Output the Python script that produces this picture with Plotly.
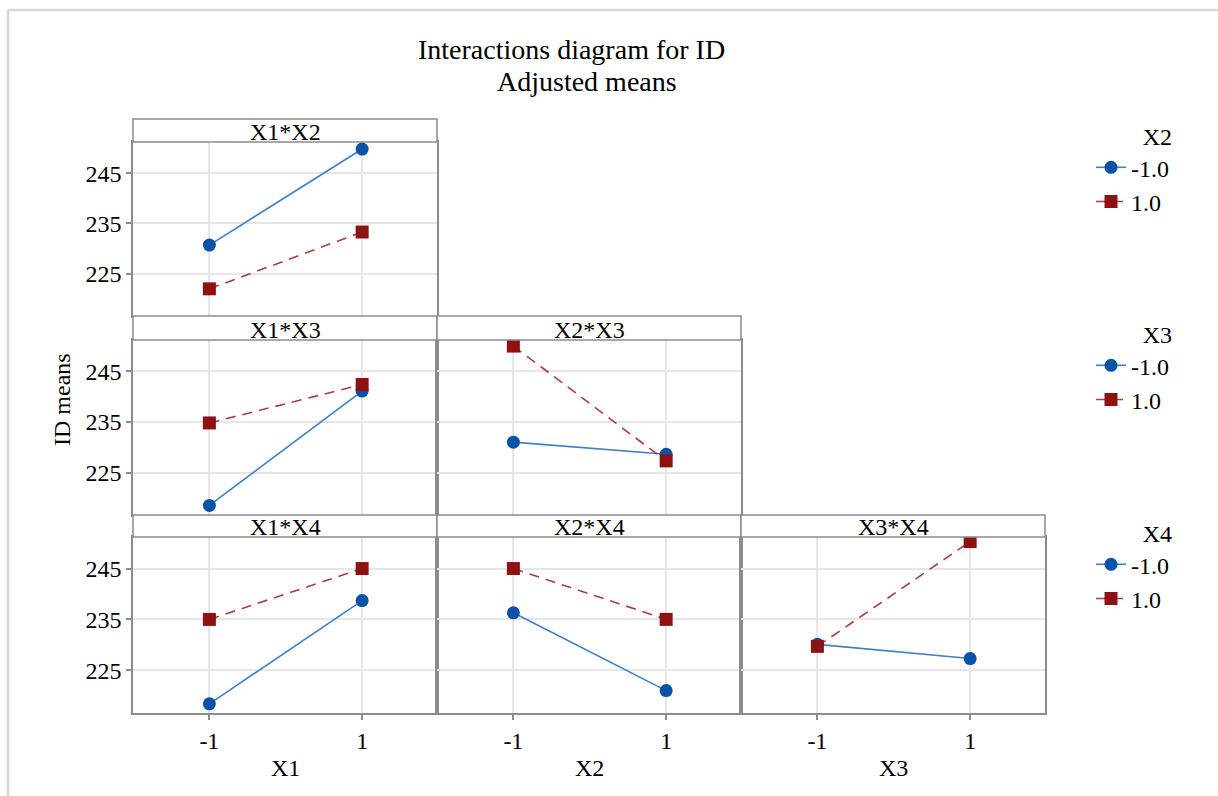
import plotly.graph_objects as go

# ---------------- data ----------------
x_levels = [-1, 1]
level_names = ["-1.0", "1.0"]

# panel titles
panel_titles = ["X1*X2", "X1*X3", "X2*X3", "X1*X4", "X2*X4", "X3*X4"]

# means for (trace level -1, trace level 1)
X1X2_low = [230.7, 249.8]
X1X2_high = [222.0, 233.3]
X1X3_low = [218.5, 241.1]
X1X3_high = [234.8, 242.4]
X2X3_low = [231.0, 228.6]
X2X3_high = [250.0, 227.3]
X1X4_low = [218.4, 238.7]
X1X4_high = [235.0, 245.0]
X2X4_low = [236.3, 221.0]
X2X4_high = [245.0, 235.0]
X3X4_low = [230.1, 227.3]
X3X4_high = [229.7, 250.3]

y_ticks = [225, 235, 245]
x_ticks = [-1, 1]
x_tick_labels = ["-1", "1"]
x_titles = ["X1", "X2", "X3"]
legend_titles = ["X2", "X3", "X4"]

# ---------------- layout helpers ----------------
W, H = 1218, 796
def fx(p):
    return p / W
def fy(p):
    return 1 - p / H

col_px = [(133, 437), (437, 741), (741, 1045)]
row_px = [(142, 316), (340, 515), (537, 713)]
header_top = [119, 316, 515]

FONT = "Liberation Serif"
GRAY = "#8C8C8C"
GRID = "#E6E6E6"
BLUE_M = "#0852A8"
BLUE_L = "#3F7FC8"
RED_M = "#8E1212"
RED_L = "#B23A3A"

panels = [
    # (row, col, title, low, high, legend)
    (0, 0, panel_titles[0], X1X2_low, X1X2_high, "legend"),
    (1, 0, panel_titles[1], X1X3_low, X1X3_high, "legend2"),
    (1, 1, panel_titles[2], X2X3_low, X2X3_high, None),
    (2, 0, panel_titles[3], X1X4_low, X1X4_high, "legend3"),
    (2, 1, panel_titles[4], X2X4_low, X2X4_high, None),
    (2, 2, panel_titles[5], X3X4_low, X3X4_high, None),
]

fig = go.Figure()
layout = {}
shapes = []
annotations = []

for i, (r, c, title, low, high, leg) in enumerate(panels):
    k = "" if i == 0 else str(i + 1)
    xa, ya = "x" + k, "y" + k
    x0, x1 = col_px[c]
    y0, y1 = row_px[r]
    bottom_row = (r == 2)
    left_col = (c == 0)
    layout["xaxis" + k] = dict(
        domain=[fx(x0), fx(x1)], anchor=ya, range=[-2.0, 1.98],
        tickvals=x_ticks, ticktext=x_tick_labels,
        showticklabels=bottom_row, ticks="outside" if bottom_row else "",
        ticklen=5, tickcolor=GRAY, tickwidth=1.5,
        showline=True, mirror=True, linecolor=GRAY, linewidth=1.5,
        showgrid=True, gridcolor=GRID, gridwidth=1.5, zeroline=False,
        tickfont=dict(family=FONT, size=24, color="black"),
        ticklabelstandoff=0,
    )
    layout["yaxis" + k] = dict(
        domain=[fy(y1), fy(y0)], anchor=xa, range=[216.6, 251.2],
        tickvals=y_ticks, showticklabels=left_col,
        ticks="outside" if left_col else "", ticklen=5, tickcolor=GRAY, tickwidth=1.5,
        showline=True, mirror=True, linecolor=GRAY, linewidth=1.5,
        showgrid=True, gridcolor=GRID, gridwidth=1.5, zeroline=False,
        tickfont=dict(family=FONT, size=24, color="black"),
    )
    show = leg is not None
    fig.add_trace(go.Scatter(
        x=x_levels, y=low, xaxis=xa, yaxis=ya, mode="lines+markers",
        name=level_names[0], showlegend=show, legend=leg if show else "legend",
        line=dict(color=BLUE_L, width=1.6),
        marker=dict(symbol="circle", size=13, color=BLUE_M),
    ))
    fig.add_trace(go.Scatter(
        x=x_levels, y=high, xaxis=xa, yaxis=ya, mode="lines+markers",
        name=level_names[1], showlegend=show, legend=leg if show else "legend",
        line=dict(color=RED_L, width=1.6, dash="10px,7px"),
        marker=dict(symbol="square", size=13, color=RED_M),
    ))
    # header strip
    shapes.append(dict(type="rect", xref="paper", yref="paper",
                       x0=fx(x0), x1=fx(x1), y0=fy(y0), y1=fy(header_top[r]),
                       line=dict(color=GRAY, width=1.5), fillcolor="white", layer="above"))
    annotations.append(dict(text=title, xref="paper", yref="paper",
                            x=fx((x0 + x1) / 2), y=fy(y0 + 5), xanchor="center", yanchor="bottom",
                            showarrow=False, font=dict(family=FONT, size=24, color="black")))

# x axis titles
for c, t in enumerate(x_titles):
    x0, x1 = col_px[c]
    annotations.append(dict(text=t, xref="paper", yref="paper", x=fx((x0 + x1) / 2), y=fy(768),
                            xanchor="center", yanchor="middle", showarrow=False,
                            font=dict(family=FONT, size=24, color="black")))
# y axis title
annotations.append(dict(text="ID means", xref="paper", yref="paper", x=fx(62), y=fy(400),
                        xanchor="center", yanchor="middle", textangle=-90, showarrow=False,
                        font=dict(family=FONT, size=24, color="black")))
# figure titles
annotations.append(dict(text="Interactions diagram for ID", xref="paper", yref="paper",
                        x=fx(571), y=fy(50), xanchor="center", yanchor="middle", showarrow=False,
                        font=dict(family=FONT, size=28, color="black")))
annotations.append(dict(text="Adjusted means", xref="paper", yref="paper",
                        x=fx(587), y=fy(82), xanchor="center", yanchor="middle", showarrow=False,
                        font=dict(family=FONT, size=28, color="black")))

# outer frame (top and left edges only are visible)
shapes.append(dict(type="line", xref="paper", yref="paper", x0=fx(8), x1=1.0,
                   y0=fy(10), y1=fy(10), line=dict(color="#D8D8D8", width=2.5), layer="below"))
shapes.append(dict(type="line", xref="paper", yref="paper", x0=fx(8), x1=fx(8),
                   y0=fy(10), y1=0.0, line=dict(color="#D8D8D8", width=2.5), layer="below"))

leg_tops = [114, 312, 511]
for j, key in enumerate(["legend", "legend2", "legend3"]):
    layout[key] = dict(
        x=fx(1091), y=fy(leg_tops[j]), xanchor="left", yanchor="top",
        title=dict(text=legend_titles[j], side="top right",
                   font=dict(family=FONT, size=24, color="black")),
        font=dict(family=FONT, size=24, color="black"),
        bgcolor="rgba(0,0,0,0)", tracegroupgap=0,
    )

fig.update_layout(
    width=W, height=H, margin=dict(l=0, r=0, t=0, b=0),
    paper_bgcolor="white", plot_bgcolor="white",
    shapes=shapes, annotations=annotations,
    font=dict(family=FONT, size=24, color="black"),
    **layout,
)

fig.write_html("out.html")
